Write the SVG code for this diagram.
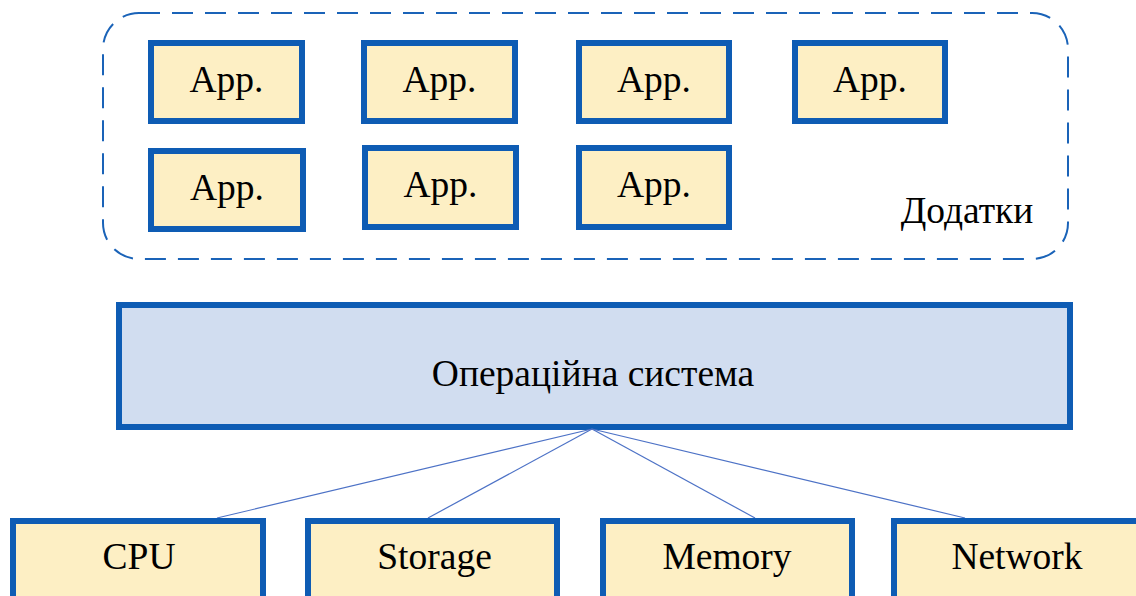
<svg xmlns="http://www.w3.org/2000/svg" width="1136" height="596" viewBox="0 0 1136 596">
  <style>
    .box { fill: #fdefc4; stroke: #0e5cb4; stroke-width: 6; }
    .os { fill: #d1ddf0; stroke: #0e5cb4; stroke-width: 6; }
    .group { fill: none; stroke: #1a63b8; stroke-width: 2; stroke-dasharray: 21 12; }
    .link { stroke: #4d72c6; stroke-width: 1.2; fill: none; }
    text { font-family: "Liberation Serif", "Times New Roman", serif; font-size: 37.5px; fill: #000; text-anchor: middle; }
  </style>
  <rect width="1136" height="596" fill="#ffffff"/>

  <!-- applications container -->
  <g id="apps-group">
    <rect class="group" x="103" y="13" width="965" height="246" rx="36" ry="36"/>
    <text x="967" y="223">Додатки</text>
  </g>

  <g id="app1"><rect class="box" x="151" y="43" width="151" height="78"/><text x="226.5" y="92">App.</text></g>
  <g id="app2"><rect class="box" x="364" y="43" width="151" height="78"/><text x="439.5" y="92">App.</text></g>
  <g id="app3"><rect class="box" x="579" y="43" width="150" height="78"/><text x="654" y="92">App.</text></g>
  <g id="app4"><rect class="box" x="795" y="43" width="150" height="78"/><text x="870" y="92">App.</text></g>
  <g id="app5"><rect class="box" x="151" y="151" width="152" height="78"/><text x="227" y="200">App.</text></g>
  <g id="app6"><rect class="box" x="365" y="148" width="151" height="79"/><text x="440.5" y="197">App.</text></g>
  <g id="app7"><rect class="box" x="579" y="148" width="150" height="79"/><text x="654" y="197">App.</text></g>

  <!-- operating system layer -->
  <g id="os"><rect class="os" x="119" y="305" width="951" height="122"/><text x="593" y="386">Операційна система</text></g>

  <!-- connectors from OS to hardware -->
  <g id="connectors">
    <line class="link" x1="592" y1="429" x2="217" y2="518"/>
    <line class="link" x1="592" y1="429" x2="428" y2="518"/>
    <line class="link" x1="592" y1="429" x2="755" y2="518"/>
    <line class="link" x1="592" y1="429" x2="965" y2="518"/>
  </g>

  <!-- hardware resources -->
  <g id="cpu"><rect class="box" x="13" y="521" width="250" height="100"/><text x="139" y="569">CPU</text></g>
  <g id="storage"><rect class="box" x="308" y="521" width="249" height="100"/><text x="434.5" y="569">Storage</text></g>
  <g id="memory"><rect class="box" x="603" y="521" width="249" height="100"/><text x="727" y="569">Memory</text></g>
  <g id="network"><rect class="box" x="894" y="521" width="260" height="100"/><text x="1017" y="569">Network</text></g>
</svg>
